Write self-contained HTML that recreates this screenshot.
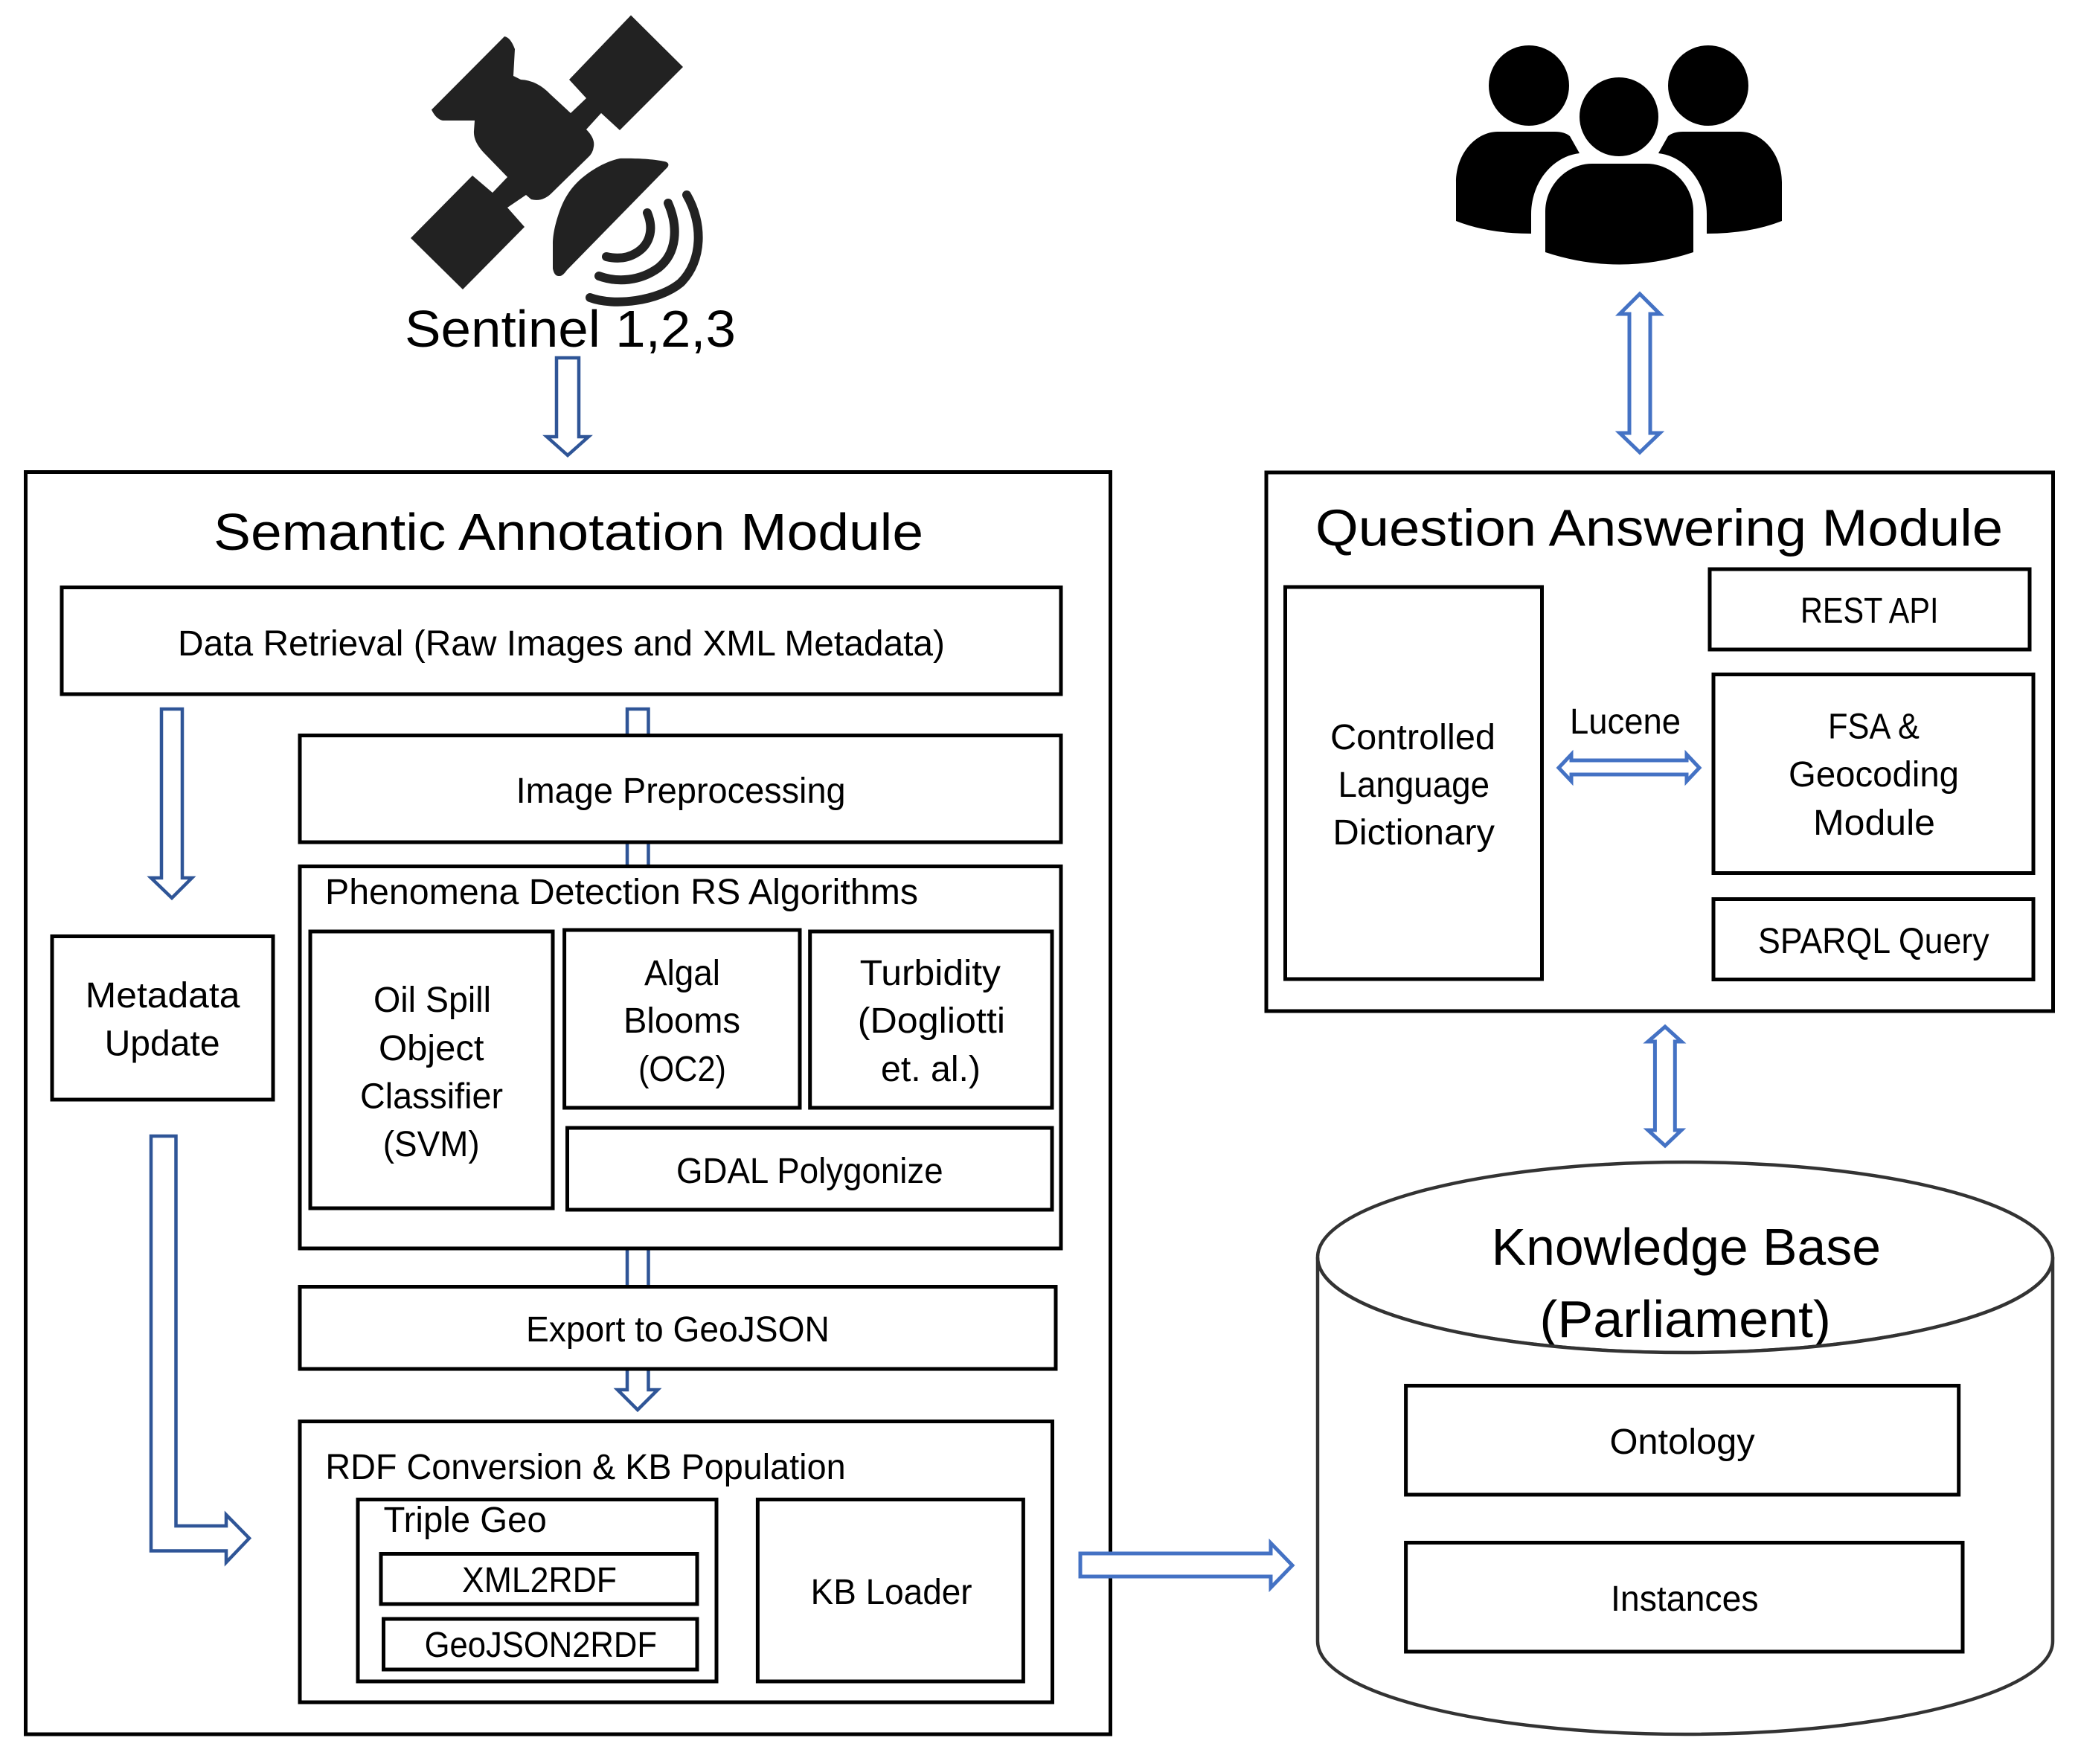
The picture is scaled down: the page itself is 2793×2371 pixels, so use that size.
<!DOCTYPE html>
<html lang="en">
<head>
<meta charset="utf-8">
<title>Semantic Annotation and Question Answering Architecture</title>
<style>
html,body{margin:0;padding:0;background:#fff;width:2793px;height:2371px;overflow:hidden}
svg{display:block}
text{font-family:"Liberation Sans",sans-serif;fill:#000;font-size:48px}
.big{font-size:70px}
.b{fill:#fff;stroke:#000;stroke-width:5}
.d{fill:#fff;stroke:#2f5597;stroke-width:4.5;stroke-linejoin:miter}
.l{fill:#fff;stroke:#4472c4;stroke-width:5;stroke-linejoin:miter}
</style>
</head>
<body>
<svg xmlns="http://www.w3.org/2000/svg" width="2793" height="2371" viewBox="0 0 2793 2371">
<rect width="2793" height="2371" fill="#fff"/>

<!-- Satellite -->
<path fill="#222" d="M678 49Q686 50 692 66L690 102L700 107Q722 108 740 127L767 152L788 132L765 107L848 20.5L918 90L833 175L808 152L788 174Q800 186 798 197Q797 206 790 212L743 258Q730 272 714 268L707 262L682 279L705 305L622 389L552 320L635 236L662 259L682 238L650 205Q636 190 637 176L638 162L595 162Q586 160 580 147.5Z"/>
<path fill="#222" d="M893 217C870 212 833 213 833 213C810 218 790 232 778 243C762 258 755 275 751 287C745 305 743 318 743 328L743 361C745 370 748 371 752 371C756 371 759 367 762 363L897 225C900 221 898 218 893 217Z"/>
<g fill="none" stroke="#222" stroke-width="12" stroke-linecap="round">
<path d="M870 286C880 310 872 330 855 340C842 348 828 348 815 345"/>
<path d="M898 273C912 305 910 340 885 360C860 378 830 380 805 371"/>
<path d="M923 262C945 300 945 350 915 380C885 405 825 412 793 400"/>
</g>

<!-- People -->
<g fill="#000">
<ellipse cx="2055" cy="115" rx="54" ry="54"/>
<ellipse cx="2176" cy="157" rx="53" ry="53"/>
<ellipse cx="2296" cy="115" rx="54" ry="54"/>
<path d="M1957 297L1957 245C1957 205 1985 177 2013 177L2090 177Q2103 177 2110 183L2123 206C2087 210 2058 245 2058 288L2058 314Q2000 314 1957 297Z"/>
<path d="M2395 297L2395 245C2395 205 2367 177 2339 177L2262 177Q2249 177 2242 183L2229 206C2265 210 2294 245 2294 288L2294 314Q2352 314 2395 297Z"/>
<path d="M2077 339L2077 284C2077 250 2105 220 2140 220L2213 220C2248 220 2276 250 2276 284L2276 339Q2177 372 2077 339Z"/>
</g>

<text x="544" y="466" class="big" textLength="445" lengthAdjust="spacingAndGlyphs">Sentinel 1,2,3</text>

<!-- Top arrows -->
<path class="d" d="M748 481H778V587H791L763 612L735 587H748Z"/>
<path class="l" d="M2204 395L2231 422H2218V582H2231L2204 608L2177 582H2190V422H2177Z"/>

<!-- Semantic Annotation Module -->
<rect class="b" x="34.5" y="634.5" width="1458" height="1696.5"/>
<text x="287" y="739" class="big" textLength="954" lengthAdjust="spacingAndGlyphs">Semantic Annotation Module</text>

<!-- Arrows inside left module (behind boxes) -->
<path class="d" d="M217 953H245V1180H258L231 1207L203 1180H217Z"/>
<path class="d" d="M843 953H871.5V1868H884L857 1895L830 1868H843Z"/>
<path class="d" d="M203 1527H236.5V2051H304V2036L335 2067.5L304 2100V2084.5H203Z"/>

<rect class="b" x="83" y="789.5" width="1343" height="143.5"/>
<text x="239" y="881" textLength="1031" lengthAdjust="spacingAndGlyphs">Data Retrieval (Raw Images and XML Metadata)</text>

<rect class="b" x="403" y="988.5" width="1023" height="143.5"/>
<text x="693.6" y="1079" textLength="443" lengthAdjust="spacingAndGlyphs">Image Preprocessing</text>

<rect class="b" x="70" y="1258.5" width="297" height="219.5"/>
<text x="114.8" y="1354" textLength="207.6" lengthAdjust="spacingAndGlyphs">Metadata</text>
<text x="140.6" y="1418.6" textLength="155" lengthAdjust="spacingAndGlyphs">Update</text>

<rect class="b" x="403" y="1164.5" width="1023" height="513.5"/>
<text x="437" y="1215" textLength="797" lengthAdjust="spacingAndGlyphs">Phenomena Detection RS Algorithms</text>

<rect class="b" x="417" y="1252" width="326" height="372"/>
<text x="502" y="1360" textLength="158" lengthAdjust="spacingAndGlyphs">Oil Spill</text>
<text x="509" y="1425" textLength="141.5" lengthAdjust="spacingAndGlyphs">Object</text>
<text x="484" y="1489.5" textLength="192" lengthAdjust="spacingAndGlyphs">Classifier</text>
<text x="514.7" y="1554" textLength="130" lengthAdjust="spacingAndGlyphs">(SVM)</text>

<rect class="b" x="758.6" y="1250" width="316.4" height="239"/>
<text x="866" y="1324" textLength="102" lengthAdjust="spacingAndGlyphs">Algal</text>
<text x="838" y="1388" textLength="157" lengthAdjust="spacingAndGlyphs">Blooms</text>
<text x="858" y="1453" textLength="118" lengthAdjust="spacingAndGlyphs">(OC2)</text>

<rect class="b" x="1088.7" y="1252" width="325.3" height="237"/>
<text x="1155.6" y="1324" textLength="189.4" lengthAdjust="spacingAndGlyphs">Turbidity</text>
<text x="1152.8" y="1388" textLength="198.2" lengthAdjust="spacingAndGlyphs">(Dogliotti</text>
<text x="1184" y="1453" textLength="134" lengthAdjust="spacingAndGlyphs">et. al.)</text>

<rect class="b" x="762.5" y="1516" width="651.5" height="110"/>
<text x="909" y="1590" textLength="358.6" lengthAdjust="spacingAndGlyphs">GDAL Polygonize</text>

<rect class="b" x="403" y="1729.5" width="1016" height="110.5"/>
<text x="707" y="1803" textLength="407.8" lengthAdjust="spacingAndGlyphs">Export to GeoJSON</text>

<rect class="b" x="403" y="1910.5" width="1011.5" height="377.5"/>
<text x="437.4" y="1988" textLength="699.2" lengthAdjust="spacingAndGlyphs">RDF Conversion &amp; KB Population</text>

<rect class="b" x="481" y="2015.5" width="482" height="244.5"/>
<text x="515.5" y="2059" textLength="219.3" lengthAdjust="spacingAndGlyphs">Triple Geo</text>
<rect class="b" x="512" y="2088.5" width="425" height="67.5"/>
<text x="621" y="2140" textLength="208" lengthAdjust="spacingAndGlyphs">XML2RDF</text>
<rect class="b" x="515.5" y="2176" width="421.5" height="68"/>
<text x="570.6" y="2227" textLength="312.4" lengthAdjust="spacingAndGlyphs">GeoJSON2RDF</text>

<rect class="b" x="1018.4" y="2015.5" width="357" height="244.5"/>
<text x="1089.6" y="2156" textLength="217" lengthAdjust="spacingAndGlyphs">KB Loader</text>

<!-- Arrow from left module to KB -->
<path class="l" d="M1452 2088H1708V2074L1737 2104L1708 2134V2119H1452Z"/>

<!-- Question Answering Module -->
<rect class="b" x="1702" y="635" width="1057.5" height="724"/>
<text x="1768" y="733.5" class="big" textLength="924" lengthAdjust="spacingAndGlyphs">Question Answering Module</text>

<rect class="b" x="1727.5" y="789" width="345" height="527"/>
<text x="1788" y="1007" textLength="222" lengthAdjust="spacingAndGlyphs">Controlled</text>
<text x="1798.5" y="1071" textLength="203.5" lengthAdjust="spacingAndGlyphs">Language</text>
<text x="1791.4" y="1135" textLength="217.6" lengthAdjust="spacingAndGlyphs">Dictionary</text>

<rect class="b" x="2298" y="765" width="430" height="108"/>
<text x="2420" y="837" textLength="185.5" lengthAdjust="spacingAndGlyphs">REST API</text>

<rect class="b" x="2303" y="906.5" width="430" height="267"/>
<text x="2457" y="992.5" textLength="123" lengthAdjust="spacingAndGlyphs">FSA &amp;</text>
<text x="2404" y="1057" textLength="229" lengthAdjust="spacingAndGlyphs">Geocoding</text>
<text x="2437" y="1122" textLength="164" lengthAdjust="spacingAndGlyphs">Module</text>

<rect class="b" x="2303" y="1208.5" width="430" height="108"/>
<text x="2363" y="1281" textLength="310.6" lengthAdjust="spacingAndGlyphs">SPARQL Query</text>

<text x="2110" y="986" textLength="149" lengthAdjust="spacingAndGlyphs">Lucene</text>
<path class="l" d="M2095 1032L2112 1014V1022H2267V1014L2284 1032L2267 1050V1041H2112V1050Z"/>

<path class="l" d="M2238 1380L2260 1400H2251.3V1519H2260L2238 1540L2215 1519H2224.4V1400H2215Z"/>

<!-- Knowledge Base cylinder -->
<ellipse cx="2265" cy="1690" rx="494" ry="128" fill="#fff" stroke="#333" stroke-width="4.5"/>
<text x="2004.6" y="1700" class="big" textLength="523.4" lengthAdjust="spacingAndGlyphs">Knowledge Base</text>
<text x="2069.4" y="1797" class="big" textLength="391.6" lengthAdjust="spacingAndGlyphs">(Parliament)</text>
<path fill="#fff" stroke="#333" stroke-width="4.5" d="M1771 1690C1771 1761 1992 1818 2265 1818C2538 1818 2759 1761 2759 1690V2206C2759 2275 2538 2331 2265 2331C1992 2331 1771 2275 1771 2206Z"/>

<rect class="b" x="1889.6" y="1862.5" width="743.1" height="146.5"/>
<text x="2163.5" y="1954" textLength="195.2" lengthAdjust="spacingAndGlyphs">Ontology</text>
<rect class="b" x="1889.6" y="2073.5" width="748.4" height="146.5"/>
<text x="2165" y="2165" textLength="198.6" lengthAdjust="spacingAndGlyphs">Instances</text>
</svg>
</body>
</html>
